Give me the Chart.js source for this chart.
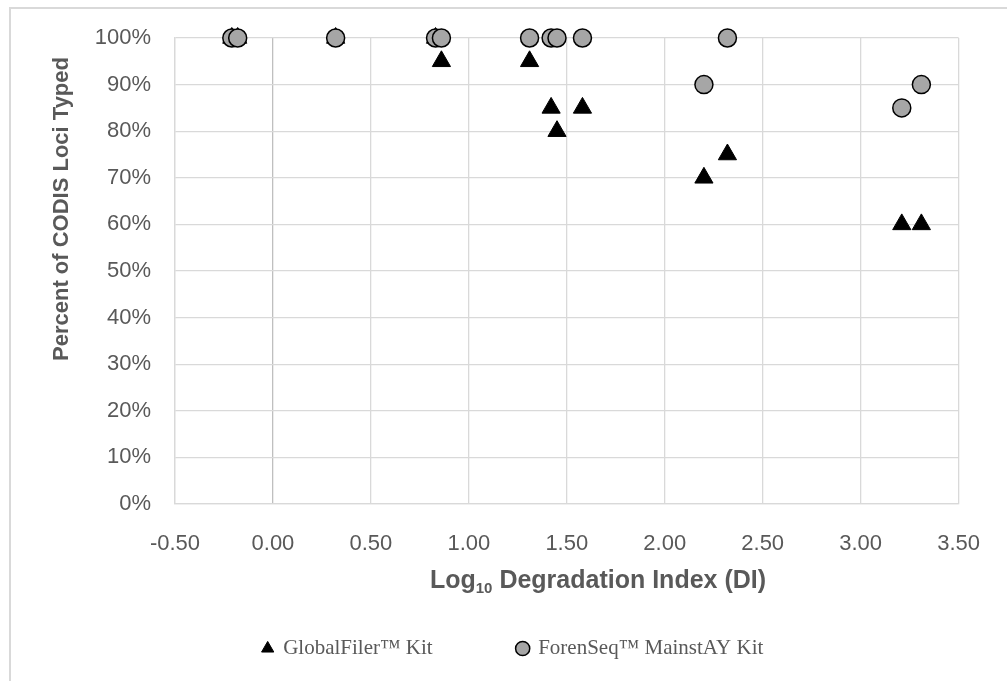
<!DOCTYPE html>
<html><head><meta charset="utf-8">
<script src="https://cdn.jsdelivr.net/npm/chart.js@4"></script>
<style>
html,body{margin:0;padding:0;background:#fff;}
#wrap{position:relative;width:1007px;height:681px;overflow:hidden;}
#frame{position:absolute;left:9px;top:7px;width:1040px;height:720px;border:2px solid #d9d9d9;box-sizing:border-box;}
canvas{position:absolute;left:0;top:0;}
</style></head><body>
<div id="wrap"><div id="frame"></div><canvas id="c" width="1007" height="681"></canvas></div>
<script>
// ---- data ----
const degradationIndex = [-0.21, -0.18, 0.32, 0.83, 0.86, 1.31, 1.42, 1.45, 1.58, 2.20, 2.32, 3.21, 3.31];
const globalFilerPct   = [100, 100, 100, 100, 95, 95, 85, 80, 85, 70, 75, 60, 60];
const forenSeqPct      = [100, 100, 100, 100, 100, 100, 100, 100, 100, 90, 100, 85, 90];
const seriesNames = ['GlobalFiler™ Kit', 'ForenSeq™ MainstAY Kit'];
const yTitle = 'Percent of CODIS Loci Typed';
const xTitleParts = ['Log', '10', ' Degradation Index (DI)'];
const xRange = [-0.5, 3.5];
const yRange = [0, 100];

const TEXT = '#595959';
const SANS = '"Liberation Sans", Arial, sans-serif';

const axisTitles = {
  id: 'axisTitles',
  afterDraw(chart) {
    const { ctx } = chart;
    ctx.save();
    ctx.fillStyle = TEXT;
    ctx.textBaseline = 'middle';
    // y title
    ctx.font = 'bold 22px ' + SANS;
    ctx.save();
    ctx.translate(62, 209);
    ctx.rotate(-Math.PI / 2);
    ctx.textAlign = 'center';
    ctx.fillText(yTitle, 0, 0);
    ctx.restore();
    // x title with subscript
    const big = 'bold 25px ' + SANS, small = 'bold 15px ' + SANS;
    ctx.font = big; const w0 = ctx.measureText(xTitleParts[0]).width;
    ctx.font = small; const w1 = ctx.measureText(xTitleParts[1]).width;
    ctx.font = big; const w2 = ctx.measureText(xTitleParts[2]).width;
    let x = 598 - (w0 + w1 + w2) / 2;
    const y = 581;
    ctx.textAlign = 'left';
    ctx.font = big; ctx.fillText(xTitleParts[0], x, y); x += w0;
    ctx.font = small; ctx.fillText(xTitleParts[1], x, y + 8); x += w1;
    ctx.font = big; ctx.fillText(xTitleParts[2], x, y);
    ctx.restore();
  }
};

const LEGEND_PAD = 85;
const LEGEND_FONT = 21;
const BOTTOM_PAD = 12;
const LEFT_PAD = 67;
const PLOT_LEFT = 175;

new Chart(document.getElementById('c'), {
  type: 'scatter',
  data: {
    datasets: [
      {
        label: seriesNames[0],
        data: degradationIndex.map((x, i) => ({ x, y: globalFilerPct[i] })),
        pointStyle: 'triangle',
        pointRadius: 10.5,
        pointHoverRadius: 10.5,
        backgroundColor: '#000000',
        borderColor: '#000000',
        borderWidth: 1,
        clip: false,
        order: 1
      },
      {
        label: seriesNames[1],
        data: degradationIndex.map((x, i) => ({ x, y: forenSeqPct[i] })),
        pointStyle: 'circle',
        pointRadius: 9,
        pointHoverRadius: 9,
        backgroundColor: '#a6a6a6',
        borderColor: '#000000',
        borderWidth: 1.5,
        clip: false,
        order: 0
      }
    ]
  },
  options: {
    responsive: false,
    animation: false,
    devicePixelRatio: 1,
    layout: { padding: { left: LEFT_PAD, right: 48, top: 38, bottom: BOTTOM_PAD } },
    plugins: {
      tooltip: { enabled: false },
      legend: {
        position: 'bottom',
        labels: {
          usePointStyle: true,
          boxWidth: 10,
          boxHeight: 10,
          padding: LEGEND_PAD,
          color: TEXT,
          font: { family: '"Liberation Serif", "Times New Roman", serif', size: LEGEND_FONT },
          sort: (a, b) => a.datasetIndex - b.datasetIndex
        }
      }
    },
    scales: {
      x: {
        type: 'linear',
        min: xRange[0], max: xRange[1],
        afterFit(s) { s.height = (681 - BOTTOM_PAD - (LEGEND_FONT + LEGEND_PAD + 10)) - 504; },
        grid: {
          color: (c) => (c.tick && c.tick.value === 0 ? '#bfbfbf' : '#d9d9d9'),
          lineWidth: 1.3,
          drawTicks: false
        },
        border: { color: '#d9d9d9', width: 1.3 },
        ticks: {
          stepSize: 0.5,
          padding: 27,
          color: TEXT,
          font: { family: SANS, size: 22 },
          callback: (v) => Number(v).toFixed(2)
        }
      },
      y: {
        type: 'linear',
        min: yRange[0], max: yRange[1],
        afterFit(s) { s.width = PLOT_LEFT - LEFT_PAD; },
        grid: { color: '#d9d9d9', lineWidth: 1.3, drawTicks: false },
        border: { color: '#d9d9d9', width: 1.3 },
        ticks: {
          stepSize: 10,
          padding: 24,
          color: TEXT,
          font: { family: SANS, size: 22 },
          callback: (v) => v + '%'
        }
      }
    }
  },
  plugins: [axisTitles]
});
</script>
</body></html>
